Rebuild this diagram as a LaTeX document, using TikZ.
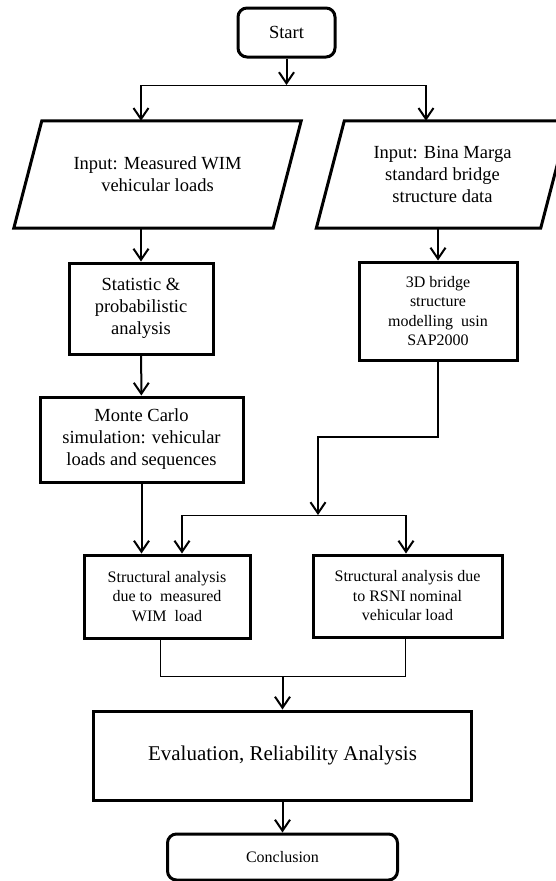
\documentclass[tikz,border=0pt]{standalone}
\usepackage{fontspec}
\setmainfont{Liberation Serif}
\usetikzlibrary{calc,arrows.meta}

\begin{document}
\begin{tikzpicture}[x=1pt,y=-1pt,
	box/.style={draw,line width=3pt,inner sep=0pt,align=center},
	term/.style={box,rounded corners=9pt},
	inbox/.style={inner sep=0pt,align=center},
	border/.style={line width=3pt,line join=miter},
	flow/.style={line width=2pt,-{Straight Barb[length=11pt,width=15pt]}},
	link/.style={line width=1pt},
	smalltext/.style={font=\fontsize{16}{19.5}\selectfont},
	bigtext/.style={font=\fontsize{21}{25}\selectfont},
	font=\fontsize{18.5}{22}\selectfont]
%define stuff
\def\picw{556}
\def\pich{881}
\def\slant{14}
%set bounding box (the right input box runs off the page)
\useasboundingbox (0,0) rectangle (\picw,\pich);
\clip (0,0) rectangle (\picw,\pich);
%Start
\node[term,minimum width=97,minimum height=49] (start) at (286.5,32.5) {Start};
\coordinate (split) at (286.5,85);
\coordinate (splitl) at (141,85);
\coordinate (splitr) at (426,85);
\draw[flow] (start) -- (split);
\draw[link] (splitl) -- (splitr);
%Inputs
\node[inbox,minimum width=259,minimum height=107] (inwim) at (157.5,174.5)
	{Input: Measured WIM\\vehicular loads};
\node[inbox,minimum width=224,minimum height=107] (inbm) at (442.5,174.5)
	{Input: Bina Marga\\standard bridge\\structure data};
\foreach \n in {inwim,inbm}
{
	\draw[border] ($(\n.south west)+(-\slant,0)$) -- ($(\n.north west)+(\slant,0)$)
		-- ($(\n.north east)+(\slant,0)$) -- ($(\n.south east)+(-\slant,0)$) -- cycle;
}
\draw[flow] (splitl) -- (splitl |- inwim.north);
\draw[flow] (splitr) -- (splitr |- inbm.north);
%Left column
\node[box,minimum width=144,minimum height=91] (stat) at (141,308.5)
	{Statistic \&\\probabilistic\\analysis};
\node[box,minimum width=203,minimum height=85] (mc) at (141.5,439.5)
	{Monte Carlo\\simulation: vehicular\\loads and sequences};
\draw[flow] (stat.north |- inwim.south) -- (stat.north);
\draw[flow] (stat) -- (mc);
%Right column
\node[box,smalltext,minimum width=158,minimum height=98] (sap) at (438,311)
	{3D bridge\\structure\\modelling~~usin\\SAP2000};
\draw[flow] (inbm.south -| sap.north) -- (sap.north);
\coordinate (bend) at (318,437);
\coordinate (join) at (318,515);
\coordinate (joinl) at (182,515);
\coordinate (joinr) at (406,515);
\draw[flow] (sap.south) |- (bend) -- (join);
\draw[link] (joinl) -- (joinr);
%Structural analyses
\node[box,smalltext,minimum width=166,minimum height=83] (sawim) at (167,596.5)
	{Structural analysis\\due to~~measured\\WIM~~load};
\node[box,smalltext,minimum width=189,minimum height=82] (sarsni) at (407.5,596)
	{Structural analysis due\\to RSNI nominal\\vehicular load};
\draw[flow] (mc.south) -- (mc.south |- sawim.north);
\draw[flow] (joinl) -- (joinl |- sawim.north);
\draw[flow] (joinr) -- (joinr |- sarsni.north);
%Merge
\coordinate (mergel) at (160,676);
\coordinate (merger) at (405,676);
\coordinate (merge) at (282.5,676);
\draw[link] (sawim.south -| mergel) -- (mergel) -- (merger) -- (sarsni.south -| merger);
%Evaluation and end
\node[box,bigtext,minimum width=378,minimum height=89] (eval) at (282.5,755.5)
	{Evaluation, Reliability Analysis};
\node[term,smalltext,minimum width=230,minimum height=46] (concl) at (282.5,857)
	{Conclusion};
\draw[flow] (merge) -- (eval);
\draw[flow] (eval) -- (concl);
\end{tikzpicture}
\end{document}
